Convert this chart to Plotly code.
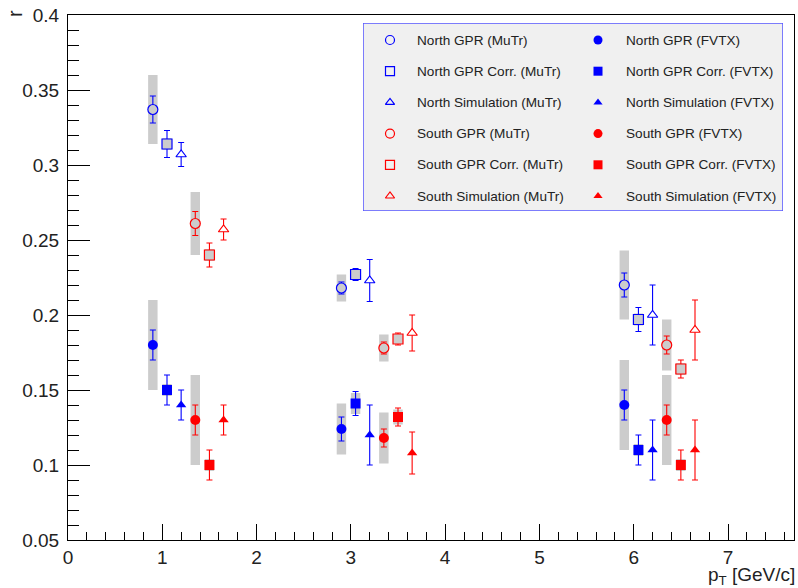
import plotly.graph_objects as go

# ---- data -----------------------------------------------------------------
# pT positions (GeV/c) of each series, shifted around the bin centres 1, 3, 6
x_north_gpr = [0.90, 2.90, 5.90]
x_north_corr = [1.05, 3.05, 6.05]
x_north_sim = [1.20, 3.20, 6.20]
x_south_gpr = [1.35, 3.35, 6.35]
x_south_corr = [1.50, 3.50, 6.50]
x_south_sim = [1.65, 3.65, 6.65]

# MuTr
north_gpr_mutr = [0.337, 0.218, 0.220]
north_gpr_mutr_stat = [0.009, 0.004, 0.008]
north_gpr_mutr_sys = [0.023, 0.009, 0.023]
north_corr_mutr = [0.314, 0.227, 0.197]
north_corr_mutr_stat = [0.009, 0.004, 0.008]
north_corr_mutr_sys = [0.004, 0.003, 0.004]
north_sim_mutr = [0.307, 0.223, 0.200]
north_sim_mutr_stat = [0.008, 0.014, 0.020]

south_gpr_mutr = [0.261, 0.178, 0.180]
south_gpr_mutr_stat = [0.008, 0.004, 0.006]
south_gpr_mutr_sys = [0.021, 0.009, 0.017]
south_corr_mutr = [0.240, 0.184, 0.164]
south_corr_mutr_stat = [0.008, 0.004, 0.006]
south_corr_mutr_sys = [0.004, 0.003, 0.004]
south_sim_mutr = [0.257, 0.188, 0.190]
south_sim_mutr_stat = [0.007, 0.012, 0.020]

# FVTX
north_gpr_fvtx = [0.180, 0.124, 0.140]
north_gpr_fvtx_stat = [0.010, 0.008, 0.010]
north_gpr_fvtx_sys = [0.030, 0.017, 0.030]
north_corr_fvtx = [0.150, 0.141, 0.110]
north_corr_fvtx_stat = [0.010, 0.008, 0.010]
north_corr_fvtx_sys = [0.004, 0.007, 0.004]
north_sim_fvtx = [0.140, 0.120, 0.110]
north_sim_fvtx_stat = [0.010, 0.020, 0.020]

south_gpr_fvtx = [0.130, 0.118, 0.130]
south_gpr_fvtx_stat = [0.010, 0.006, 0.010]
south_gpr_fvtx_sys = [0.030, 0.017, 0.030]
south_corr_fvtx = [0.100, 0.132, 0.100]
south_corr_fvtx_stat = [0.010, 0.006, 0.010]
south_corr_fvtx_sys = [0.004, 0.005, 0.004]
south_sim_fvtx = [0.130, 0.108, 0.110]
south_sim_fvtx_stat = [0.010, 0.014, 0.020]

# ---- styling ----------------------------------------------------------------
BLUE = "#0000ff"
RED = "#ff0000"
BOX = "#cccccc"
FONT = "Liberation Sans, Arial, sans-serif"
BOX_HALF_WIDTH = 0.05

W, H = 798, 588
L, R, T, B = 68, 4, 15, 48

# (label, x, y, stat, sys, color, symbol, open)
series = [
    ("North GPR (MuTr)", x_north_gpr, north_gpr_mutr, north_gpr_mutr_stat, north_gpr_mutr_sys, BLUE, "circle", True),
    ("North GPR Corr. (MuTr)", x_north_corr, north_corr_mutr, north_corr_mutr_stat, north_corr_mutr_sys, BLUE, "square", True),
    ("North Simulation (MuTr)", x_north_sim, north_sim_mutr, north_sim_mutr_stat, None, BLUE, "triangle-up", True),
    ("South GPR (MuTr)", x_south_gpr, south_gpr_mutr, south_gpr_mutr_stat, south_gpr_mutr_sys, RED, "circle", True),
    ("South GPR Corr. (MuTr)", x_south_corr, south_corr_mutr, south_corr_mutr_stat, south_corr_mutr_sys, RED, "square", True),
    ("South Simulation (MuTr)", x_south_sim, south_sim_mutr, south_sim_mutr_stat, None, RED, "triangle-up", True),
    ("North GPR (FVTX)", x_north_gpr, north_gpr_fvtx, north_gpr_fvtx_stat, north_gpr_fvtx_sys, BLUE, "circle", False),
    ("North GPR Corr. (FVTX)", x_north_corr, north_corr_fvtx, north_corr_fvtx_stat, north_corr_fvtx_sys, BLUE, "square", False),
    ("North Simulation (FVTX)", x_north_sim, north_sim_fvtx, north_sim_fvtx_stat, None, BLUE, "triangle-up", False),
    ("South GPR (FVTX)", x_south_gpr, south_gpr_fvtx, south_gpr_fvtx_stat, south_gpr_fvtx_sys, RED, "circle", False),
    ("South GPR Corr. (FVTX)", x_south_corr, south_corr_fvtx, south_corr_fvtx_stat, south_corr_fvtx_sys, RED, "square", False),
    ("South Simulation (FVTX)", x_south_sim, south_sim_fvtx, south_sim_fvtx_stat, None, RED, "triangle-up", False),
]

SIZES = {"circle": 10, "square": 10, "triangle-up": 9}

fig = go.Figure()

# systematic-uncertainty boxes (drawn first, underneath the points)
for name, xs, ys, stat, sys_, color, sym, is_open in series:
    if sys_ is None:
        continue
    px, py = [], []
    for xv, yv, sv in zip(xs, ys, sys_):
        px += [xv - BOX_HALF_WIDTH, xv + BOX_HALF_WIDTH, xv + BOX_HALF_WIDTH, xv - BOX_HALF_WIDTH, xv - BOX_HALF_WIDTH, None]
        py += [yv - sv, yv - sv, yv + sv, yv + sv, yv - sv, None]
    fig.add_trace(go.Scatter(
        x=px, y=py, mode="lines", fill="toself", fillcolor=BOX,
        line=dict(width=0, color=BOX), hoverinfo="skip", showlegend=False,
    ))

# points with statistical error bars
for name, xs, ys, stat, sys_, color, sym, is_open in series:
    if is_open:
        # hollow look: interior takes the colour of whatever sits behind it
        fill = BOX if sys_ is not None else "white"
        marker = dict(symbol=sym, size=SIZES[sym], color=fill, line=dict(color=color, width=1.2))
    else:
        marker = dict(symbol=sym, size=SIZES[sym], color=color, line=dict(color=color, width=0))
    fig.add_trace(go.Scatter(
        x=xs, y=ys, mode="markers", name=name, marker=marker,
        error_y=dict(type="data", array=stat, color=color, thickness=1.1, width=3),
        showlegend=False,
    ))

# ---- legend panel -------------------------------------------------------------
LEG_X0, LEG_X1, LEG_Y0, LEG_Y1 = 363, 783, 23, 211   # px
plot_w, plot_h = W - L - R, H - T - B
leg_xdom = [(LEG_X0 - L) / plot_w, (LEG_X1 - L) / plot_w]
leg_ydom = [(H - B - LEG_Y1) / plot_h, (H - B - LEG_Y0) / plot_h]
leg_w, leg_h = LEG_X1 - LEG_X0, LEG_Y1 - LEG_Y0

col_marker_x = [27, 235]
col_text_x = [52, 261]
row_y0, row_step = 17, 31.2
LEG_SIZES = {"circle": 9, "square": 9, "triangle-up": 8}

fig.add_shape(type="rect", xref="x2", yref="y2", x0=0, x1=leg_w, y0=0, y1=leg_h,
              fillcolor="#f0f0f0", line=dict(color="#5555ff", width=1.5), layer="below")

annotations = []
for i, (name, xs, ys, stat, sys_, color, sym, is_open) in enumerate(series):
    col, row = divmod(i, 6)
    yy = row_y0 + row * row_step
    if is_open:
        m = dict(symbol=sym + "-open", size=LEG_SIZES[sym], color=color, line=dict(color=color, width=1.2))
    else:
        m = dict(symbol=sym, size=LEG_SIZES[sym], color=color)
    fig.add_trace(go.Scatter(x=[col_marker_x[col]], y=[yy], mode="markers", marker=m,
                             xaxis="x2", yaxis="y2", hoverinfo="skip", showlegend=False))
    annotations.append(dict(x=col_text_x[col], y=yy, xref="x2", yref="y2", text=name,
                            showarrow=False, xanchor="left", yanchor="middle",
                            font=dict(family=FONT, size=13.6, color="#222222")))

# axis titles
annotations.append(dict(text="p<sub>T</sub> [GeV/c]", xref="paper", yref="paper",
                        x=(797 - L) / plot_w, y=(H - B - 576) / plot_h, xanchor="right", yanchor="middle",
                        showarrow=False, font=dict(family=FONT, size=19, color="#222222")))
annotations.append(dict(text="r", xref="paper", yref="paper", textangle=-90,
                        x=(15 - L) / plot_w, y=(H - B - 14) / plot_h, xanchor="center", yanchor="middle",
                        showarrow=False, font=dict(family=FONT, size=20, color="#222222")))

axis_common = dict(showline=True, linecolor="#000000", linewidth=1, mirror=True,
                   ticks="inside", tickcolor="#000000", showgrid=False, zeroline=False,
                   tickfont=dict(family=FONT, size=19, color="#222222"))

fig.update_layout(
    width=W, height=H,
    margin=dict(l=L, r=R, t=T, b=B),
    paper_bgcolor="white", plot_bgcolor="white",
    xaxis=dict(range=[0, 7.7], dtick=1, tick0=0, ticklen=16,
               minor=dict(dtick=0.2, tick0=0, ticklen=8, ticks="inside", tickcolor="#000000"),
               **axis_common),
    yaxis=dict(range=[0.05, 0.4], dtick=0.05, tick0=0, ticklen=22, ticklabelstandoff=4,
               minor=dict(dtick=0.01, tick0=0, ticklen=11, ticks="inside", tickcolor="#000000"),
               **axis_common),
    xaxis2=dict(domain=leg_xdom, range=[0, leg_w], visible=False, anchor="y2"),
    yaxis2=dict(domain=leg_ydom, range=[leg_h, 0], visible=False, anchor="x2"),
    annotations=annotations,
    showlegend=False,
)

fig.write_html("out.html")
